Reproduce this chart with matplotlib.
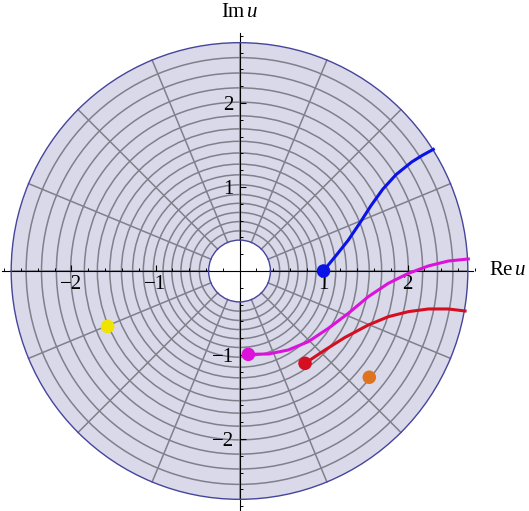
import numpy as np
import matplotlib
matplotlib.use("Agg")
import matplotlib.pyplot as plt
from matplotlib.patches import Wedge, Circle
from matplotlib.ticker import FixedLocator

plt.rcParams['font.family'] = ['Liberation Serif', 'DejaVu Serif']
plt.rcParams['mathtext.fontset'] = 'custom'
plt.rcParams['mathtext.rm'] = 'Liberation Serif'
plt.rcParams['mathtext.it'] = 'Liberation Serif:italic'
plt.rcParams['axes.unicode_minus'] = True

# annulus 1/e < |u| < e, mesh circles and spokes
r_inner = 0.368
r_outer = 2.718
mesh_radii = [0.478, 0.588, 0.697, 0.806, 0.91, 1.026, 1.145, 1.272,
              1.405, 1.544, 1.692, 1.847, 2.01, 2.18, 2.357, 2.54]
spoke_deg = np.arange(0, 360, 22.5)

# curves
blue_x = [0.998, 1.145, 1.296, 1.435, 1.565, 1.704, 1.863, 2.050, 2.177, 2.307]
blue_y = [0.0, 0.179, 0.369, 0.575, 0.778, 0.972, 1.147, 1.298, 1.377, 1.448]

magenta_x = [0.105, 0.343, 0.581, 0.819, 1.057, 1.295, 1.533, 1.771, 2.01, 2.248, 2.486, 2.724]
magenta_y = [-0.992, -0.988, -0.940, -0.841, -0.683, -0.504, -0.306, -0.147, -0.028, 0.06, 0.119, 0.143]

red_x = [0.780, 1.018, 1.256, 1.533, 1.771, 2.01, 2.248, 2.486, 2.685]
red_y = [-1.099, -0.940, -0.790, -0.643, -0.544, -0.484, -0.452, -0.452, -0.476]

# dots
dot_x = [1.0, 0.105, 0.780, 1.545, -1.57]
dot_y = [0.0, -0.992, -1.099, -1.265, -0.66]
dot_c = ['#0a12e6', '#dc12dc', '#d40f22', '#df7420', '#f0e300']

fig = plt.figure(figsize=(5.29, 5.11), dpi=100)
ax = fig.add_axes([0, 0, 1, 1])
ax.set_xlim(-2.851, 3.446)
ax.set_ylim(-2.857, 3.226)
ax.set_aspect('equal')
ax.patch.set_visible(False)

ring = Wedge((0, 0), r_outer, 0, 360, width=r_outer - r_inner,
             facecolor='#d9d9e9', edgecolor='none', zorder=0.5)
ax.add_patch(ring)

grid_c = '#80808c'
for r in mesh_radii:
    ax.add_patch(Circle((0, 0), r, fill=False, ec=grid_c, lw=1.1, zorder=1))
for a in np.radians(spoke_deg):
    ax.plot([r_inner*np.cos(a), r_outer*np.cos(a)],
            [r_inner*np.sin(a), r_outer*np.sin(a)], color=grid_c, lw=1.1, zorder=1)

edge = Wedge((0, 0), r_outer, 0, 360, width=r_outer - r_inner,
             facecolor='none', edgecolor='#45459c', lw=1.0, zorder=3)
ax.add_patch(edge)

ax.plot(blue_x, blue_y, color=dot_c[0], lw=2.2, zorder=4, solid_joinstyle='round')
ax.plot(magenta_x, magenta_y, color=dot_c[1], lw=2.2, zorder=4, solid_joinstyle='round')
ax.plot(red_x, red_y, color=dot_c[2], lw=2.2, zorder=4, solid_joinstyle='round')
ax.scatter(dot_x, dot_y, s=95, c=dot_c, zorder=5, linewidths=0)

# axes through the origin
for s in ['top', 'right']:
    ax.spines[s].set_visible(False)
ax.spines['left'].set_position(('data', 0))
ax.spines['bottom'].set_position(('data', 0))
ax.spines['bottom'].set_bounds(-2.83, 2.78)
ax.spines['left'].set_bounds(-2.85, 2.83)
for s in ['left', 'bottom']:
    ax.spines[s].set_linewidth(0.8)
    ax.spines[s].set_zorder(2.5)

major = [-2, -1, 1, 2]
xminor = [v for v in np.round(np.arange(-2.8, 2.81, 0.2), 1) if v not in major]
yminor = [v for v in np.round(np.arange(-2.8, 2.81, 0.2), 1) if v not in major]
ax.xaxis.set_major_locator(FixedLocator(major))
ax.yaxis.set_major_locator(FixedLocator(major))
ax.xaxis.set_minor_locator(FixedLocator(xminor))
ax.yaxis.set_minor_locator(FixedLocator(yminor))
ax.tick_params(which='major', direction='in', length=4.5, width=0.8, labelsize=15, pad=3)
ax.tick_params(which='minor', direction='in', length=2.5, width=0.7)
ax.tick_params(axis='y', which='major', pad=4)

ax.text(2.97, 0.0, r'$\mathrm{Re}\,u$', fontsize=15, ha='left', va='center')
ax.text(0.0, 3.08, r'$\mathrm{Im}\,u$', fontsize=15, ha='center', va='center')

fig.savefig('out.png', dpi=100)
